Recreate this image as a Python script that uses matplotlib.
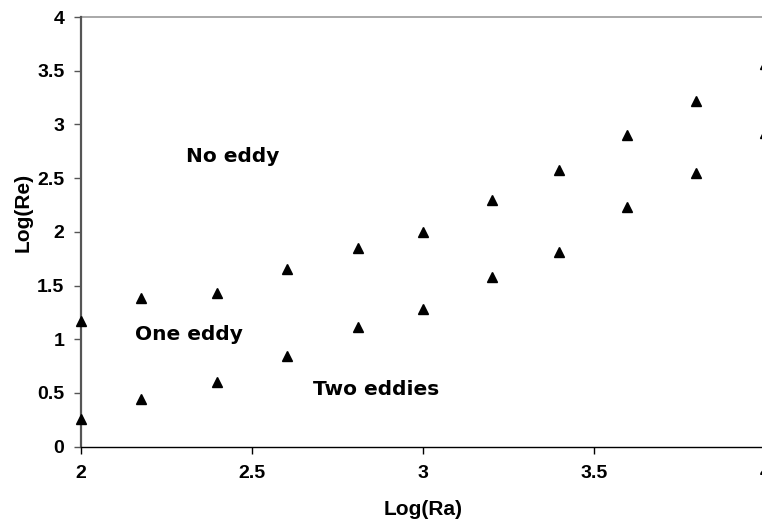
import numpy as np
import matplotlib
matplotlib.use("Agg")
import matplotlib.pyplot as plt

# boundary points
log_ra = [2.0, 2.176, 2.398, 2.602, 2.811, 3.0, 3.203, 3.398, 3.597, 3.797, 4.0]
upper_re = [1.17, 1.38, 1.435, 1.655, 1.85, 2.0, 2.30, 2.575, 2.90, 3.22, 3.56]
lower_re = [0.255, 0.444, 0.605, 0.847, 1.117, 1.28, 1.583, 1.816, 2.233, 2.545, 2.92]

regions = ["No eddy", "One eddy", "Two eddies"]
region_xy = [(2.307, 2.70), (2.158, 1.04), (2.678, 0.53)]

xticks = [2, 2.5, 3, 3.5, 4]
yticks = [0, 0.5, 1, 1.5, 2, 2.5, 3, 3.5, 4]

tick_font = {"family": "Liberation Sans", "weight": "bold", "size": 14}
label_font = {"family": "Liberation Sans", "weight": "bold", "size": 15}

fig = plt.figure(figsize=(7.62, 5.22), dpi=100)
ax = fig.add_axes([81 / 762, 1 - 446.7 / 522, 684 / 762, 429.7 / 522])

for ys in (upper_re, lower_re):
    ax.plot(log_ra, ys, ls="none", marker="^", ms=7.7, color="black",
            clip_on=False, zorder=3)

for txt, (x, y) in zip(regions, region_xy):
    ax.text(x, y, txt, ha="left", va="center", fontsize=14.5,
            fontweight="bold", family="DejaVu Sans")

ax.set_xlim(2, 4)
ax.set_ylim(0, 4)
ax.set_xticks(xticks)
ax.set_yticks(yticks)
ax.set_xticklabels([f"{v:g}" for v in xticks], fontdict=tick_font)
ax.set_yticklabels([f"{v:g}" for v in yticks], fontdict=tick_font)
ax.tick_params(axis="x", direction="out", length=5, width=1, pad=8, color="black")
ax.tick_params(axis="y", direction="out", length=5, width=1, pad=7, color="#555555")

for s in ("top", "right"):
    ax.spines[s].set_visible(False)
ax.spines["left"].set_color("#555555")
ax.spines["left"].set_linewidth(1.6)
ax.spines["bottom"].set_color("black")
ax.spines["bottom"].set_linewidth(1.0)
ax.axhline(4, color="#999999", lw=1.2, clip_on=False)

ax.set_xlabel("Log(Ra)", fontdict=label_font)
ax.set_ylabel("Log(Re)", fontdict=label_font)
ax.xaxis.set_label_coords(0.5, -0.147)
ax.yaxis.set_label_coords(-0.085, 0.546)
ax.xaxis.label.set_va("center")
ax.yaxis.label.set_va("center")

fig.savefig("out.png", dpi=100)
